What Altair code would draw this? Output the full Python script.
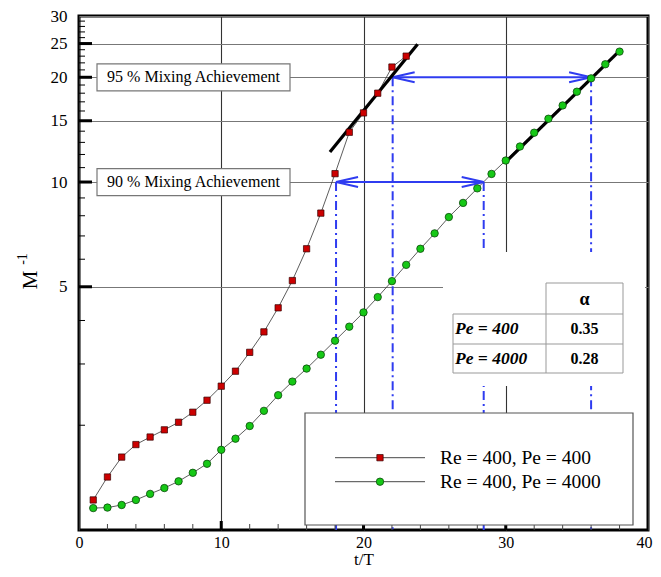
import altair as alt
import pandas as pd

# ---------------- data ----------------
t_pe400 = list(range(1, 24))
m_pe400 = [1.22, 1.42, 1.62, 1.76, 1.85, 1.94, 2.04, 2.18, 2.36, 2.59, 2.86,
           3.24, 3.71, 4.35, 5.21, 6.43, 8.14, 10.57, 13.9, 15.8, 18.0, 21.4, 23.0]
t_pe4000 = list(range(1, 39))
m_pe4000 = [1.156, 1.16, 1.18, 1.22, 1.27, 1.32, 1.38, 1.46, 1.55, 1.70,
            1.83, 1.99, 2.20, 2.44, 2.67, 2.91, 3.19, 3.50, 3.84, 4.22,
            4.67, 5.19, 5.78, 6.43, 7.12, 7.93, 8.71, 9.59, 10.55, 11.53,
            12.65, 13.86, 15.2, 16.6, 18.18, 19.86, 21.8, 23.7]
series_names = ["Re = 400, Pe = 400", "Re = 400, Pe = 4000"]

fit400_t = [17.64, 23.8]
fit400_m = [12.2, 24.9]
fit4000_t = [29.98, 38.14]
fit4000_m = [11.4, 24.15]

mix_labels = ["90 % Mixing Achievement", "95 % Mixing Achievement"]
mix_level = [10, 20]
mix_t_start = [18.07, 22.05]
mix_t_end = [28.45, 36.0]

y_major = [5, 10, 15, 20, 25, 30]
y_major_ticks = [5, 10, 15, 20, 25]
y_minor_ticks = [v for v in range(2, 30) if v % 5 != 0]
x_major = [0, 10, 20, 30, 40]
x_major_ticks = [10, 20, 30]
x_minor_ticks = [v for v in range(2, 40, 2) if v % 10 != 0]

table_rows = ["Pe = 400", "Pe = 4000"]
table_alpha = ["0.35", "0.28"]

# ---------------- styling ----------------
SERIF = "Liberation Serif"
BLUE = "#2f3cf0"
W, H = 569, 514
DASHDOT = [9, 4, 2, 4]

xs = alt.Scale(domain=[0, 40], nice=False, zero=False)
ys = alt.Scale(type="log", domain=[1, 30], nice=False)


def X(f):
    return alt.X(f, type="quantitative", scale=xs)


def Y(f):
    return alt.Y(f, type="quantitative", scale=ys)


one = pd.DataFrame({"k": [0]})

df_series = pd.DataFrame({
    "t": t_pe400 + t_pe4000,
    "m": m_pe400 + m_pe4000,
    "s": [series_names[0]] * len(t_pe400) + [series_names[1]] * len(t_pe4000),
})
df_red = pd.DataFrame({"t": t_pe400, "m": m_pe400})
df_green = pd.DataFrame({"t": t_pe4000, "m": m_pe4000})
df_fit = pd.DataFrame({
    "t": fit400_t + fit4000_t,
    "m": fit400_m + fit4000_m,
    "g": ["a", "a", "b", "b"],
})
df_mix = pd.DataFrame({
    "label": mix_labels, "m": mix_level,
    "t0": mix_t_start, "t1": mix_t_end,
})
df_vlines = pd.DataFrame({
    "t": mix_t_start + mix_t_end,
    "top": mix_level + mix_level,
    "bottom": [1, 1, 1, 1],
})

x_axis = alt.Axis(values=x_major, grid=True, gridColor="#333", gridWidth=1.1,
                  ticks=False, tickSize=0, domain=False, format="d",
                  labelFont=SERIF, labelFontSize=16, labelColor="black",
                  labelPadding=4, labelFlush=False, labelOverlap=False,
                  labelOffset={"condition": {"test": "datum.value == 40", "value": -4}, "value": 0},
                  title="t/T", titleFont=SERIF, titleFontSize=17,
                  titleFontWeight="normal", titleColor="black", titlePadding=1)
y_axis = alt.Axis(values=y_major, grid=True, gridColor="#777", gridWidth=1.2,
                  ticks=False, tickSize=0, domain=False, format="d",
                  labelFont=SERIF, labelFontSize=17, labelColor="black",
                  labelPadding=12, labelFlush=False, labelOverlap=False,
                  title="")

# ---------------- layers ----------------
series_line = alt.Chart(df_series).mark_line(color="#333", strokeWidth=0.8).encode(
    x=alt.X("t:Q", scale=xs, axis=x_axis),
    y=alt.Y("m:Q", scale=ys, axis=y_axis),
    detail="s:N",
)

vlines = alt.Chart(df_vlines).mark_rule(color=BLUE, strokeWidth=2, strokeDash=DASHDOT).encode(
    x=X("t"), y=Y("top"), y2="bottom:Q",
)

# white background behind the alpha table
table_bg = alt.Chart(one).mark_rect(fill="white").encode(
    x=alt.value(364), x2=alt.value(566), y=alt.value(236), y2=alt.value(370))


def rule(x1, x2, y1, y2, color="#999", width=1.0):
    return alt.Chart(one).mark_rule(color=color, strokeWidth=width).encode(
        x=alt.value(x1), x2=alt.value(x2), y=alt.value(y1), y2=alt.value(y2))


def label(txt, x, y, size, align="center", weight="normal", style="normal"):
    return alt.Chart(one).mark_text(
        text=txt, font=SERIF, fontSize=size, align=align, baseline="middle",
        fontWeight=weight, fontStyle=style, color="black",
    ).encode(x=alt.value(x), y=alt.value(y))


hor_arrows = alt.Chart(df_mix).mark_rule(color=BLUE, strokeWidth=2).encode(
    x=X("t0"), x2="t1:Q", y=Y("m"),
)
HEAD = "M -2 -0.45 L 0 0 L -2 0.45"
head_left = alt.Chart(df_mix).mark_point(
    shape=HEAD, filled=False, stroke=BLUE, strokeWidth=2, size=484, angle=180, opacity=1
).encode(x=X("t0"), y=Y("m"))
head_right = alt.Chart(df_mix).mark_point(
    shape=HEAD, filled=False, stroke=BLUE, strokeWidth=2, size=484, angle=0, opacity=1
).encode(x=X("t1"), y=Y("m"))

fit_lines = alt.Chart(df_fit).mark_line(color="black", strokeWidth=3.2).encode(
    x=X("t"), y=Y("m"), detail="g:N",
)

red_pts = alt.Chart(df_red).mark_point(
    shape="square", filled=True, fill="#cc0000", stroke="#330000",
    strokeWidth=0.7, size=40, opacity=1
).encode(x=X("t"), y=Y("m"))
green_pts = alt.Chart(df_green).mark_point(
    shape="circle", filled=True, fill="#16c816", stroke="#0b4a0b",
    strokeWidth=0.8, size=55, opacity=1
).encode(x=X("t"), y=Y("m"))

# "Mixing Achievement" boxes, anchored at their mixing levels
mix_boxes = alt.Chart(df_mix).mark_rect(
    fill="white", stroke="#777", strokeWidth=1.2, yOffset=-13.5, y2Offset=13.5
).encode(
    x=alt.value(18), x2=alt.value(211),
    y=Y("m"), y2="m:Q",
)
mix_text = alt.Chart(df_mix).mark_text(
    font=SERIF, fontSize=16, align="center", baseline="middle", color="black"
).encode(
    x=alt.value(114.5), y=Y("m"), text="label:N",
)

# inward ticks
y_minor = alt.Chart(pd.DataFrame({"v": y_minor_ticks})).mark_rule(color="black", strokeWidth=1).encode(
    y=Y("v"), x=alt.value(0), x2=alt.value(6))
y_major_r = alt.Chart(pd.DataFrame({"v": y_major_ticks})).mark_rule(color="black", strokeWidth=3).encode(
    y=Y("v"), x=alt.value(0), x2=alt.value(13))
x_minor = alt.Chart(pd.DataFrame({"v": x_minor_ticks})).mark_rule(color="#444", strokeWidth=1).encode(
    x=X("v"), y=alt.value(H), y2=alt.value(H - 6))
x_major_r = alt.Chart(pd.DataFrame({"v": x_major_ticks})).mark_rule(color="black", strokeWidth=3).encode(
    x=X("v"), y=alt.value(H), y2=alt.value(H - 9))

# alpha table
TL, TC, TR = 374, 467, 544
R0, R1, R2, R3 = 267, 298, 328, 357
table_layers = [
    rule(TC, TR, R0, R0), rule(TL, TR, R1, R1), rule(TL, TR, R2, R2), rule(TL, TR, R3, R3),
    rule(TL, TL, R1, R3), rule(TC, TC, R0, R3), rule(TR, TR, R0, R3),
    label("α", (TC + TR) / 2, (R0 + R1) / 2 + 1, 18, weight="bold"),
    label(table_rows[0], TL + 2, (R1 + R2) / 2, 17.5, align="left", weight="bold", style="italic"),
    label(table_rows[1], TL + 2, (R2 + R3) / 2, 17.5, align="left", weight="bold", style="italic"),
    label(table_alpha[0], (TC + TR) / 2, (R1 + R2) / 2, 16, weight="bold"),
    label(table_alpha[1], (TC + TR) / 2, (R2 + R3) / 2, 16, weight="bold"),
]

# legend
LX0, LX1, LY0, LY1 = 226, 554, 397, 509
legend_box = alt.Chart(one).mark_rect(fill="white", stroke="#555", strokeWidth=1.2).encode(
    x=alt.value(LX0), x2=alt.value(LX1), y=alt.value(LY0), y2=alt.value(LY1))
ROW1, ROW2 = 441.7, 465.7
legend_layers = [
    legend_box,
    rule(256, 346, ROW1, ROW1, color="#333", width=0.9),
    rule(256, 346, ROW2, ROW2, color="#333", width=0.9),
    alt.Chart(one).mark_point(shape="square", filled=True, fill="#cc0000", stroke="#330000",
                              strokeWidth=0.7, size=40, opacity=1).encode(
        x=alt.value(301), y=alt.value(ROW1)),
    alt.Chart(one).mark_point(shape="circle", filled=True, fill="#16c816", stroke="#0b4a0b",
                              strokeWidth=0.8, size=55, opacity=1).encode(
        x=alt.value(301), y=alt.value(ROW2)),
    label(series_names[0], 361, ROW1, 19.5, align="left"),
    label(series_names[1], 361, ROW2, 19.5, align="left"),
]

# y title  M^-1
y_title = [
    alt.Chart(one).mark_text(text="M", font=SERIF, fontSize=21, angle=270,
                             align="center", baseline="middle", color="black").encode(
        x=alt.value(-48), y=alt.value(264)),
    alt.Chart(one).mark_text(text="-1", font=SERIF, fontSize=14, angle=270,
                             align="center", baseline="middle", color="black").encode(
        x=alt.value(-56), y=alt.value(243)),
]

chart = alt.layer(
    series_line, vlines, table_bg, hor_arrows, head_left, head_right,
    fit_lines, red_pts, green_pts, mix_boxes, mix_text,
    y_minor, y_major_r, x_minor, x_major_r,
    *table_layers, *legend_layers, *y_title,
).properties(
    width=W, height=H,
    background="white",
    autosize=alt.AutoSizeParams(type="none"),
    padding={"left": 71, "top": 8, "right": 5, "bottom": 39},
).configure_view(
    stroke="black", strokeWidth=3
)

chart.save("out.html", embed_options={"renderer": "svg", "actions": False})
